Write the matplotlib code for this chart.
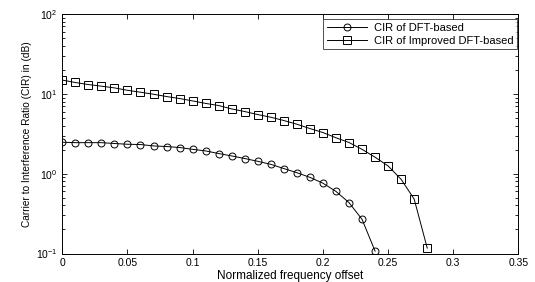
import matplotlib.pyplot as plt
import numpy as np

# valores
offset_dft = np.arange(25) * 0.01
cir_dft = [2.48, 2.45, 2.45, 2.45, 2.39, 2.34, 2.32, 2.23, 2.19, 2.13, 2.02, 1.93,
           1.79, 1.67, 1.55, 1.43, 1.31, 1.16, 1.03, 0.90, 0.76, 0.60, 0.434,
           0.268, 0.107]

offset_imp = np.arange(29) * 0.01
cir_imp = [14.9, 13.9, 13.1, 12.5, 11.9, 11.1, 10.5, 9.9, 9.27, 8.75, 8.17, 7.6,
           7.15, 6.48, 6.01, 5.51, 5.10, 4.64, 4.17, 3.68, 3.28, 2.82, 2.46,
           2.02, 1.61, 1.25, 0.85, 0.48, 0.117]

x_ticks = [0, 0.05, 0.1, 0.15, 0.2, 0.25, 0.3, 0.35]
x_labels = ['0', '0.05', '0.1', '0.15', '0.2', '0.25', '0.3', '0.35']

plt.rcParams['font.family'] = ['Liberation Sans', 'DejaVu Sans']
plt.rcParams['mathtext.fontset'] = 'custom'
plt.rcParams['mathtext.rm'] = 'Liberation Sans'
plt.rcParams['mathtext.it'] = 'Liberation Sans'

fig = plt.figure(figsize=(5.35, 2.82), dpi=100)
ax = fig.add_axes([0.1164, 0.101, 0.8527, 0.849])

ax.semilogy(offset_dft, cir_dft, '-o', color='black', lw=0.7, ms=5,
            mfc='none', mew=0.7, label='CIR of DFT-based')
ax.semilogy(offset_imp, cir_imp, '-s', color='black', lw=0.7, ms=5.5,
            mfc='none', mew=0.7, label='CIR of Improved DFT-based')

ax.set_xlim(0, 0.35)
ax.set_ylim(0.1, 100)
ax.set_xticks(x_ticks)
ax.set_xticklabels(x_labels)
ax.tick_params(which='both', direction='in', top=True, right=True,
               labelsize=7.5, width=0.6)
ax.tick_params(which='major', length=3.5)
ax.tick_params(which='minor', length=2)
for s in ax.spines.values():
    s.set_linewidth(0.7)

ax.set_xlabel('Normalized frequency offset', fontsize=8.5, labelpad=1)
ax.set_ylabel('Carrier to Interference Ratio (CIR) in (dB)', fontsize=7.3,
              labelpad=3)

leg = ax.legend(loc='upper right', bbox_to_anchor=(0.997, 0.98),
                fontsize=8, frameon=True, fancybox=False,
                edgecolor='black', borderaxespad=0, handlelength=3.6,
                borderpad=0.35, labelspacing=0.25, handletextpad=0.6)
leg.get_frame().set_linewidth(0.6)

fig.savefig('out.png', dpi=100)
